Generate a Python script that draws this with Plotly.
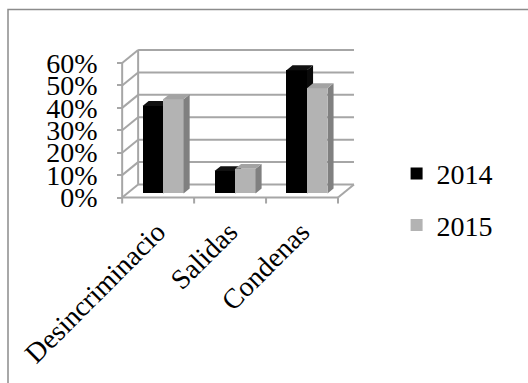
import plotly.graph_objects as go

categories = ["Desincriminacio", "Salidas", "Condenas"]
series_names = ["2014", "2015"]
values_2014 = [0.39, 0.10, 0.55]
values_2015 = [0.42, 0.11, 0.47]
tick_vals = [0.0, 0.1, 0.2, 0.3, 0.4, 0.5, 0.6]

# --- 3D-look geometry (data units) ---
DX, DY = 0.222, 0.058          # full depth offset of the back wall
S0, S1 = 0.31, 0.69            # bar front / back depth fractions
BW = 0.285                     # bar width
b0 = S0 * DY                   # base of bar front face
ddx, ddy = (S1 - S0) * DX, (S1 - S0) * DY
GRID = "#a6a6a6"
FONT = "Liberation Serif"
FS = 28

n = len(categories)
xs_black = [i + S0 * DX - BW / 2 for i in range(n)]
xs_gray = [i + S0 * DX + BW / 2 for i in range(n)]

fig = go.Figure()


def add_series(name, xc, vals, front, top, side, xa, ya):
    fig.add_trace(go.Bar(name=name, x=xc, y=vals, base=[b0] * len(vals), width=BW,
                         marker=dict(color=front, line=dict(width=0)),
                         xaxis=xa, yaxis=ya, hoverinfo="skip", legendgroup=name))
    tx, ty, sx, sy = [], [], [], []
    for x, v in zip(xc, vals):
        xl, xr = x - BW / 2, x + BW / 2
        t = b0 + v
        tx += [xl, xr, xr + ddx, xl + ddx, xl, None]
        ty += [t, t, t + ddy, t + ddy, t, None]
        sx += [xr, xr, xr + ddx, xr + ddx, xr, None]
        sy += [b0, t, t + ddy, b0 + ddy, b0, None]
    fig.add_trace(go.Scatter(x=sx, y=sy, fill="toself", fillcolor=side, mode="none",
                             showlegend=False, hoverinfo="skip", xaxis=xa, yaxis=ya))
    fig.add_trace(go.Scatter(x=tx, y=ty, fill="toself", fillcolor=top, mode="none",
                             showlegend=False, hoverinfo="skip", xaxis=xa, yaxis=ya))


add_series(series_names[0], xs_black, values_2014, "#000000", "#111111", "#0a0a0a", "x", "y")
add_series(series_names[1], xs_gray, values_2015, "#b3b3b3", "#a3a3a3", "#808080", "x2", "y2")

# --- walls / gridlines as shapes ---
shapes = []
xl0, xr0 = -0.5, n - 0.5
for v in tick_vals:
    shapes.append(dict(type="line", x0=xl0 + DX, x1=xr0 + DX, y0=v + DY, y1=v + DY))
    shapes.append(dict(type="line", x0=xl0, x1=xl0 + DX, y0=v, y1=v + DY))
shapes.append(dict(type="line", x0=xl0 + DX, x1=xl0 + DX, y0=DY, y1=tick_vals[-1] + DY))
shapes.append(dict(type="line", x0=xl0, x1=xl0, y0=0, y1=tick_vals[-1]))
shapes.append(dict(type="line", x0=xl0, x1=xr0, y0=0, y1=0))
shapes.append(dict(type="line", x0=xr0, x1=xr0 + DX, y0=0, y1=DY))
for s in shapes:
    s.update(xref="x", yref="y", layer="below", line=dict(color=GRID, width=2))

# x tick marks at category boundaries (front)
YR = (-0.02, 0.667)
ypaper0 = (0 - YR[0]) / (YR[1] - YR[0])
for i in range(n + 1):
    shapes.append(dict(type="line", xref="x", yref="paper", x0=i - 0.5, x1=i - 0.5,
                       y0=ypaper0, y1=ypaper0 - 6 / 154, layer="below",
                       line=dict(color=GRID, width=2)))

# outer frame
shapes.append(dict(type="rect", xref="paper", yref="paper", x0=(8 - 120) / 236, x1=1.8,
                   y0=-1.3, y1=(202 - 9.5) / 154, line=dict(color="#8c8c8c", width=1.5),
                   fillcolor="rgba(0,0,0,0)", layer="below"))

XR = [-0.53, 2.75]
fig.update_layout(
    width=528, height=383,
    margin=dict(l=120, r=172, t=48, b=181),
    paper_bgcolor="white", plot_bgcolor="white",
    barmode="overlay", bargap=0,
    shapes=shapes,
    font=dict(family=FONT, size=FS, color="black"),
    showlegend=True,
    legend=dict(x=1.172, y=0.345, xanchor="left", yanchor="top",
                font=dict(family=FONT, size=FS), tracegroupgap=12,
                bgcolor="rgba(0,0,0,0)"),
    xaxis=dict(range=XR, tickvals=[x + BW / 2 - 0.08 for x in xs_black], ticktext=categories,
               tickangle=-45, ticks="", showgrid=False, zeroline=False, showline=False,
               tickfont=dict(family=FONT, size=FS), ticklabelstandoff=7),
    yaxis=dict(range=list(YR), tickvals=tick_vals, tickformat=".0%", ticks="outside",
               ticklen=5, tickwidth=2, tickcolor=GRID, showgrid=False, zeroline=False,
               showline=False, anchor="free", position=0.03 / 3.28,
               tickfont=dict(family=FONT, size=FS), ticklabelstandoff=14),
    xaxis2=dict(range=XR, overlaying="x", visible=False),
    yaxis2=dict(range=list(YR), overlaying="y", visible=False),
)

fig.write_html("out.html")
